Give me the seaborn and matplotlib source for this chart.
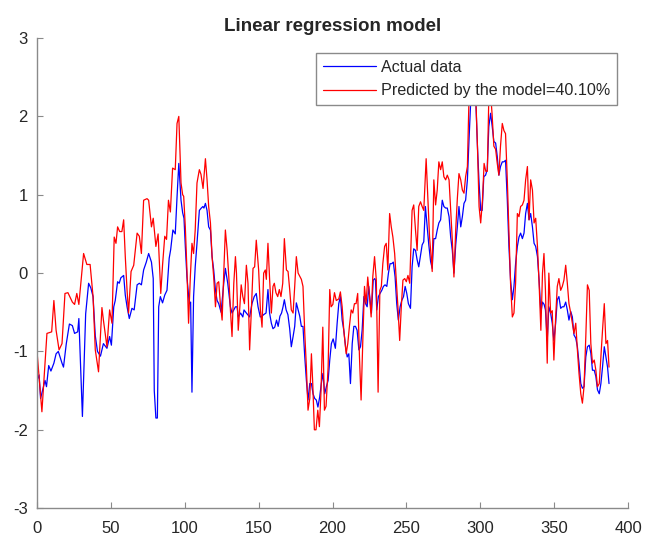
import matplotlib
matplotlib.use("Agg")
import matplotlib.pyplot as plt
import pandas as pd
import seaborn as sns

# sample index / value pairs
actual_x = [0, 1.5, 2.5, 5.5, 6.5, 8, 9.5, 11.5, 13, 14.5, 17, 18, 19.9, 22, 24, 25.5, 27.6, 28.4, 30.8, 33,
            35, 36.5, 38, 39.5, 41, 43, 45, 47.4, 49.2, 50.4, 52, 53, 54.6, 55.7, 56.8, 58.7, 59.8, 61, 62.5, 64.3,
            65.8, 67.8, 69.3, 70.7, 72.2, 74, 75.6, 77.5, 78.7, 79.4, 80.5, 81.5, 82.4, 83.5, 85, 86.5, 88, 89.5, 90.5, 92,
            93.6, 94.8, 96, 97.5, 98.6, 99.5, 100.4, 101.5, 103.1, 104, 104.9, 106, 107.1, 108.3, 109.9, 111.2, 112.3, 113, 114, 115.1,
            116.2, 117.4, 118.5, 119.6, 120.8, 121.9, 123, 124.6, 126.4, 127.5, 129.1, 130.9, 132, 133.2, 134.3, 135.4, 136.2, 137.8, 139.3, 140.1,
            141.7, 143.9, 145.5, 147, 148.4, 149.6, 151.1, 152.3, 153.4, 155, 156.3, 157.4, 158.6, 159.7, 160.9, 162.1, 163.2, 164.4, 165.5, 166.5,
            167.4, 168.6, 169.8, 171, 172.1, 173.3, 174.4, 175.5, 176.7, 177.8, 178.9, 180, 181.2, 182.3, 183.4, 184.6, 185.7, 186.8, 187.9, 189,
            190.1, 191.3, 192.4, 193.5, 194.7, 195.8, 197, 198.1, 199.2, 200.4, 201.9, 203.1, 204.2, 205.3, 206.5, 207.6, 208.8, 209.9, 211, 212.1,
            213.3, 214.4, 215.5, 216.6, 217.8, 218.9, 220, 221.2, 222.3, 223.4, 224.5, 225.6, 226.3, 227.5, 228.6, 229, 229.9, 231, 232.1, 233.3,
            234.4, 235.5, 236.7, 237.8, 238.9, 240, 241.1, 242.3, 243.4, 244.5, 245.7, 246.8, 248, 249.1, 250.2, 251.3, 252.7, 253.8, 254.9, 256.1,
            257.2, 258.3, 259.5, 260.6, 261.7, 262.8, 264, 265.1, 266.3, 267.4, 268.5, 269.7, 270.8, 271.9, 273.1, 274.2, 275.3, 276.5, 277.6, 278.8,
            279.9, 281, 282.1, 283.3, 284.4, 285.5, 286.7, 287.8, 288.9, 290, 291.2, 292.3, 293.4, 294.6, 295.7, 296.8, 298, 299.1, 300.2, 301.2,
            302.3, 303.5, 304.6, 305.7, 306.9, 308, 309.1, 310.3, 311.4, 312.5, 313.6, 314.8, 315.9, 317, 318.2, 319.3, 320.4, 321.6, 322.7, 323.8,
            325, 326.1, 327.2, 328.4, 329.5, 330.6, 331.8, 332.9, 334, 335.2, 336.3, 337.4, 338.6, 339.7, 340.9, 342, 343.1, 344, 345.2, 346.3,
            347.5, 348.6, 349.7, 350.9, 352, 353.1, 354.3, 355.4, 356.5, 357.7, 358.8, 359.9, 361.1, 362.2, 363.3, 364.5, 365.6, 366.7, 367.9, 369,
            370.1, 371.3, 372.4, 373.6, 374.7, 375.8, 377, 378.1, 379.2, 380.4, 381.5, 382.6, 383.8, 384.9, 386, 387]
actual_y = [-1.37, -1.3, -1.6, -1.37, -1.45, -1.18, -1.25, -1.15, -1.03, -1.0, -1.15, -1.2, -0.9, -0.65, -0.67, -0.77, -0.75, -0.58, -1.83, -0.52,
            -0.13, -0.19, -0.3, -0.8, -1.0, -1.06, -0.9, -0.96, -0.81, -0.92, -0.43, -0.35, -0.11, -0.13, -0.06, -0.03, -0.28, -0.43, -0.58, -0.45,
            -0.47, -0.15, -0.13, -0.15, 0.04, 0.14, 0.25, 0.14, -0.07, -1.5, -1.85, -1.85, -0.43, -0.3, -0.38, -0.28, -0.22, 0.19, 0.3, 0.55,
            0.5, 0.97, 1.4, 0.93, 0.77, 0.7, 0.34, -0.05, -0.39, -0.37, -1.52, -0.3, 0.08, 0.38, 0.8, 0.83, 0.85, 0.83, 0.89, 0.8,
            0.59, 0.55, 0.21, 0.04, -0.22, -0.35, -0.39, -0.5, -0.13, 0.06, -0.13, -0.43, -0.51, -0.47, -0.43, -0.43, -0.56, -0.51, -0.56, -0.47,
            -0.51, -0.56, -0.39, -0.3, -0.26, -0.43, -0.56, -0.55, -0.53, -0.51, -0.21, -0.51, -0.64, -0.71, -0.69, -0.6, -0.68, -0.55, -0.51, -0.43,
            -0.34, -0.47, -0.53, -0.71, -0.94, -0.81, -0.68, -0.38, -0.47, -0.55, -0.68, -0.68, -1.07, -1.37, -1.62, -1.41, -1.41, -1.54, -1.6, -1.62,
            -1.71, -1.58, -1.41, -1.28, -1.54, -1.45, -1.37, -1.11, -0.9, -0.84, -0.96, -0.64, -0.39, -0.3, -0.6, -0.73, -0.94, -1.07, -1.03, -1.41,
            -0.9, -0.68, -0.68, -0.73, -0.98, -0.94, -0.73, -0.3, -0.39, -0.43, -0.17, -0.39, -0.51, -0.09, -0.07, -0.09, -0.47, -0.3, -0.26, -0.22,
            -0.17, -0.15, -0.17, 0.0, 0.12, 0.12, 0.14, -0.05, -0.39, -0.6, -0.43, -0.35, -0.3, -0.17, -0.26, -0.39, -0.45, 0.08, 0.31, 0.29,
            0.17, 0.08, 0.23, 0.36, 0.4, 0.85, 0.59, 0.36, 0.15, 0.06, 0.44, 0.44, 0.55, 0.64, 0.68, 0.93, 0.85, 0.83, 0.83, 0.72,
            0.46, 0.29, 0.0, 0.36, 0.59, 0.85, 0.59, 0.72, 0.89, 0.93, 1.19, 1.7, 2.17, 2.25, 2.2, 2.25, 1.62, 1.15, 0.8, 0.8,
            1.23, 1.25, 1.32, 1.87, 2.04, 1.87, 1.68, 1.66, 1.49, 1.25, 1.36, 1.42, 1.42, 1.44, 0.93, 0.34, -0.09, -0.34, -0.17, 0.12,
            0.34, 0.46, 0.51, 0.44, 0.51, 0.76, 0.89, 0.68, 0.76, 0.59, 0.38, 0.34, 0.21, -0.09, -0.51, -0.37, -0.4, -0.47, -0.86, -0.43,
            -0.51, -0.64, -0.86, -0.64, -0.34, -0.3, -0.45, -0.43, -0.43, -0.37, -0.47, -0.6, -0.49, -0.56, -0.79, -0.83, -0.94, -1.15, -1.41, -1.47,
            -1.45, -1.07, -0.94, -0.92, -1.02, -1.24, -1.24, -1.32, -1.49, -1.54, -1.41, -1.2, -0.94, -1.07, -1.2, -1.41]

pred_x = [0, 3.4, 6.8, 10, 11.5, 13, 15, 17, 19, 21, 24, 25.5, 27, 28.4, 31.6, 33.8, 36, 38, 39.5, 41.7,
          44, 45, 47.4, 49.2, 50.8, 52.3, 53.5, 54.6, 56, 57.5, 58.7, 59.8, 61, 62, 63.7, 65.5, 67.8, 69.3, 70.7, 72.2,
          74.5, 75.6, 77.5, 78.7, 80.5, 82, 83.8, 85, 86.5, 87.7, 89, 90.3, 91.8, 93.6, 94.8, 96, 97.5, 98.6, 99.3, 100.4,
          101.5, 102.6, 103.8, 104.9, 106, 107.1, 108.3, 109.9, 111, 112.4, 114, 115.1, 116.2, 117.4, 118.5, 119.6, 120.8, 121.9, 123, 124.1,
          125.3, 126.4, 127.5, 128.7, 129.8, 130.9, 132, 133.2, 134.3, 135, 136.2, 137.3, 138.2, 139.3, 140.4, 141.7, 142.8, 143.9, 145, 146.2,
          147.3, 148.4, 150, 151.2, 152.3, 153.4, 154.5, 155.2, 156.3, 157.4, 158.6, 159.7, 160.6, 161.7, 162.9, 164, 165.1, 166.3, 167.4, 168.8,
          169.9, 171, 172.1, 173.3, 174.4, 175.5, 176.7, 177.8, 178.9, 180, 181.2, 182.3, 183.4, 184.6, 185.7, 186.6, 187.7, 188.8, 190, 191.1,
          192.2, 193.4, 194.5, 195.6, 197, 198.1, 199, 200.2, 201.3, 202.5, 204.2, 205.3, 206.5, 207.6, 209.2, 210.3, 211.4, 212.6, 213.7, 214.8,
          215.9, 217, 218.2, 219.3, 220.4, 221.6, 222.7, 223.8, 225, 226.1, 227.2, 228.4, 229.6, 230.8, 232, 233, 234, 235.2, 236.3, 237.4,
          238.6, 239.7, 240.8, 242, 243.1, 244.2, 245.4, 246.5, 247.6, 248.8, 249.9, 251, 252.2, 253.8, 254.9, 256.1, 257.2, 258.3, 259.5, 260.6,
          261.7, 263.3, 264.4, 265.6, 266.7, 267.4, 268.5, 269.7, 270.8, 271.9, 273.1, 274.2, 275.3, 276.5, 277.6, 278.8, 279.9, 281, 282.1, 283.3,
          284.4, 285.5, 286.7, 287.8, 288.9, 290, 291.2, 292.3, 293.4, 294.6, 295.7, 296.8, 298, 299.1, 300.2, 301.4, 302.5, 303.6, 304.7, 305.7,
          306.9, 308, 309.1, 310.3, 311.4, 312.5, 313.6, 314.8, 315.9, 317, 318.2, 319.3, 320.4, 321.6, 322.7, 323.8, 325, 326.1, 327.2, 328.4,
          329.5, 330.6, 331.8, 332.9, 334, 335.2, 336.3, 337.4, 338.6, 339.7, 340.9, 342, 343, 344, 345.2, 346.3, 347.5, 348.6, 349.7, 350.9,
          352, 353.1, 354.3, 355.4, 356.5, 357.7, 358.8, 359.9, 361.1, 362.2, 363.3, 364.5, 365.6, 366.7, 367.9, 369, 370.1, 371.3, 372.4, 373.6,
          374.7, 375.8, 377, 378.1, 379.2, 380.4, 381.5, 382.6, 383.8, 384.9, 386, 387]
pred_y = [-0.98, -1.77, -0.77, -0.75, -0.35, -0.73, -0.98, -0.9, -0.26, -0.25, -0.37, -0.4, -0.26, -0.4, 0.25, 0.11, 0.11, -0.3, -0.98, -1.26,
          -0.44, -0.6, -0.94, -0.47, -0.64, 0.46, 0.38, 0.59, 0.53, 0.53, 0.68, 0.21, -0.22, -0.51, 0.02, 0.1, 0.51, 0.47, 0.25, 0.93,
          0.95, 0.93, 0.59, 0.7, 0.34, 0.5, -0.26, 0.1, 0.47, 0.43, 0.93, 0.78, 1.34, 1.32, 1.91, 2.0, 1.15, 1.0, 0.98, 0.59,
          0.04, -0.64, -0.05, 0.38, 0.25, 0.55, 1.15, 1.32, 1.26, 1.08, 1.46, 1.19, 0.85, 0.64, 0.21, -0.05, -0.43, -0.13, -0.11, -0.39,
          -0.6, 0.0, 0.55, 0.29, -0.04, -0.47, -0.81, -0.13, 0.21, 0.0, -0.73, -0.43, -0.15, -0.3, -0.39, 0.1, -0.13, -0.98, -0.51, 0.06,
          0.08, 0.42, 0.04, -0.47, -0.69, 0.0, 0.04, -0.08, 0.38, -0.07, -0.51, -0.17, -0.13, -0.25, -0.3, -0.21, -0.3, -0.13, 0.44, 0.04,
          0.02, -0.21, -0.47, -0.51, -0.17, 0.21, 0.0, -0.04, -0.08, -0.17, -0.77, -1.2, -1.75, -1.6, -1.03, -1.41, -2.0, -2.0, -1.75, -1.96,
          -1.5, -0.69, -1.75, -1.7, -1.2, -0.21, -0.43, -0.4, -0.25, -0.35, -0.33, -0.24, -0.43, -0.73, -1.03, -0.9, -0.68, -0.47, -0.51, -0.39,
          -0.39, -0.26, -1.07, -1.62, -0.9, -0.17, -0.39, -0.05, -0.3, -0.56, -0.05, 0.21, -0.09, -1.52, -0.22, -0.17, 0.12, 0.34, 0.38, 0.04,
          0.76, 0.59, 0.46, 0.25, -0.09, -0.43, -0.86, -0.43, -0.09, -0.07, -0.11, -0.03, -0.13, 0.8, 0.87, 0.55, 0.29, 0.85, 0.91, 0.85,
          0.8, 1.46, 0.97, 0.46, 0.21, 0.02, 1.19, 0.87, 1.06, 1.42, 1.32, 1.42, 1.23, 1.19, 1.25, 1.19, 0.8, 0.42, -0.05, 0.55,
          0.95, 1.27, 1.19, 1.06, 1.02, 1.23, 1.36, 2.25, 2.4, 2.3, 2.2, 2.3, 1.62, 0.85, 0.64, 0.93, 1.4, 1.3, 1.3, 2.25,
          2.3, 2.0, 1.62, 1.58, 1.4, 1.25, 1.62, 1.91, 1.82, 1.78, 1.19, 0.51, -0.13, -0.56, -0.51, -0.13, 0.76, 0.72, 0.85, 0.87,
          0.93, 1.19, 1.36, 0.68, 1.19, 1.06, 0.64, 0.7, 0.34, -0.13, -0.73, 0.0, 0.25, -0.22, -1.15, 0.0, -0.51, -0.48, -1.11, -0.56,
          -0.17, -0.07, -0.22, -0.17, -0.09, 0.1, -0.13, -0.39, -0.51, -0.64, -0.77, -0.64, -0.98, -1.28, -1.54, -1.66, -1.45, -0.81, -0.15, -0.22,
          -0.9, -1.15, -1.11, -1.24, -1.45, -1.41, -1.07, -0.73, -0.39, -0.9, -0.86, -1.2]

x_ticks = [0, 50, 100, 150, 200, 250, 300, 350, 400]
y_ticks = [-3, -2, -1, 0, 1, 2, 3]

actual_df = pd.DataFrame({"x": actual_x, "y": actual_y})
pred_df = pd.DataFrame({"x": pred_x, "y": pred_y})

sns.set_style("white")
plt.rcParams["font.family"] = ["Liberation Sans", "DejaVu Sans"]
plt.rcParams["axes.unicode_minus"] = False

fig = plt.figure(figsize=(6.47, 5.36), dpi=100)
ax = fig.add_axes([0.057, 0.052, 0.914, 0.877])

sns.lineplot(data=actual_df, x="x", y="y", sort=False, estimator=None,
             color="#0000ff", linewidth=0.9, label="Actual data", ax=ax)
sns.lineplot(data=pred_df, x="x", y="y", sort=False, estimator=None,
             color="#ff0000", linewidth=0.9, label="Predicted by the model=40.10%", ax=ax)

ax.set_xlim(0, 400)
ax.set_ylim(-3, 3)
ax.set_xticks(x_ticks)
ax.set_yticks(y_ticks)
ax.set_xlabel("")
ax.set_ylabel("")
ax.set_title("Linear regression model", fontsize=13.5, fontweight="bold", pad=5)

sns.despine(ax=ax)
for side in ["left", "bottom"]:
    ax.spines[side].set_color("#8a8a8a")
    ax.spines[side].set_linewidth(1.0)
ax.tick_params(direction="in", length=4, width=0.8, color="#8a8a8a",
               labelsize=12, labelcolor="#262626", left=True, bottom=True)
ax.tick_params(axis="x", pad=9.5)
ax.tick_params(axis="y", pad=6.5)

leg = ax.legend(loc="upper right", bbox_to_anchor=(0.981, 0.968), fontsize=11.6,
                frameon=True, fancybox=False, framealpha=1, edgecolor="#8a8a8a",
                handlelength=3.35, handletextpad=0.3, borderpad=0.4,
                labelspacing=0.55, borderaxespad=0)
leg.get_frame().set_linewidth(1.0)

fig.savefig("out.png", dpi=100)
